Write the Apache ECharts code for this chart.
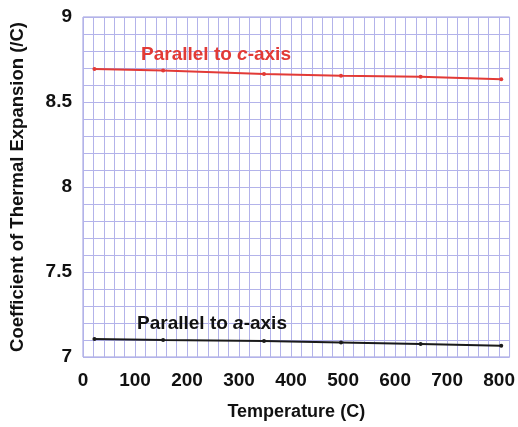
<!DOCTYPE html>
<html>
<head>
<meta charset="utf-8">
<script src="https://cdn.jsdelivr.net/npm/echarts@6/dist/echarts.min.js"></script>
<style>
  html, body { margin: 0; padding: 0; background: #ffffff; }
  #chart { width: 518px; height: 427px; }
</style>
</head>
<body>
<div id="chart"></div>
<script>
// Temperature (C) at which each coefficient was measured
const temperatures = [22, 154, 348, 496, 649, 804];
// Coefficient of thermal expansion parallel to the c-axis
const cAxisValues = [8.694, 8.686, 8.665, 8.655, 8.648, 8.634];
// Coefficient of thermal expansion parallel to the a-axis
const aAxisValues = [7.106, 7.100, 7.094, 7.086, 7.077, 7.066];
// Labelled ticks
const xTickLabels = ['0', '100', '200', '300', '400', '500', '600', '700', '800'];
const yTickLabels = ['7', '7.5', '8', '8.5', '9'];

const FONT = '"Liberation Sans", Arial, Helvetica, sans-serif';
const GRID_COLOR = '#b3b3ea';

const chart = echarts.init(document.getElementById('chart'), null, { renderer: 'canvas' });

function pairs(xs, ys) {
  return xs.map((x, i) => [x, ys[i]]);
}

chart.setOption({
  animation: false,
  backgroundColor: '#ffffff',
  grid: {
    left: 83, right: 8, top: 17, bottom: 70,
    show: true, borderColor: '#9a9adc', borderWidth: 1
  },
  xAxis: {
    type: 'value', min: 0, max: 820, interval: 20,
    name: 'Temperature (C)', nameLocation: 'middle', nameGap: 46,
    nameTextStyle: { fontFamily: FONT, fontWeight: 'bold', fontSize: 18, color: '#111' },
    axisLine: { show: false }, axisTick: { show: false },
    axisLabel: {
      margin: 14, fontFamily: FONT, fontWeight: 'bold', fontSize: 19, color: '#111',
      showMaxLabel: false,
      formatter: v => (xTickLabels.includes(String(Math.round(v))) ? String(Math.round(v)) : '')
    },
    splitLine: { show: true, lineStyle: { color: GRID_COLOR, width: 1 } }
  },
  yAxis: {
    type: 'value', min: 7, max: 9, interval: 0.1,
    name: 'Coefficient of Thermal Expansion (/C)', nameLocation: 'middle', nameGap: 56,
    nameTextStyle: { fontFamily: FONT, fontWeight: 'bold', fontSize: 18.5, color: '#111' },
    axisLine: { show: false }, axisTick: { show: false },
    axisLabel: {
      margin: 11, fontFamily: FONT, fontWeight: 'bold', fontSize: 19, color: '#111',
      formatter: v => {
        const s = String(+v.toFixed(2));
        return yTickLabels.includes(s) ? s : '';
      }
    },
    splitLine: { show: true, lineStyle: { color: GRID_COLOR, width: 1 } }
  },
  series: [
    {
      name: 'Parallel to c-axis', type: 'line',
      data: pairs(temperatures, cAxisValues),
      symbol: 'circle', symbolSize: 4,
      lineStyle: { color: '#e23a36', width: 2 },
      itemStyle: { color: '#e23a36' }
    },
    {
      name: 'Parallel to a-axis', type: 'line',
      data: pairs(temperatures, aAxisValues),
      symbol: 'circle', symbolSize: 4,
      lineStyle: { color: '#1a1a1a', width: 2 },
      itemStyle: { color: '#1a1a1a' }
    }
  ],
  graphic: [
    {
      type: 'text', left: 141, top: 45, z: 100,
      style: {
        text: '{n|Parallel to }{i|c}{n|-axis}',
        rich: {
          n: { fontFamily: FONT, fontWeight: 'bold', fontSize: 19, fill: '#e23a36' },
          i: { fontFamily: FONT, fontWeight: 'bold', fontStyle: 'italic', fontSize: 19, fill: '#e23a36' }
        }
      }
    },
    {
      type: 'text', left: 137, top: 314, z: 100,
      style: {
        text: '{n|Parallel to }{i|a}{n|-axis}',
        rich: {
          n: { fontFamily: FONT, fontWeight: 'bold', fontSize: 19, fill: '#111' },
          i: { fontFamily: FONT, fontWeight: 'bold', fontStyle: 'italic', fontSize: 19, fill: '#111' }
        }
      }
    }
  ]
});
</script>
</body>
</html>
